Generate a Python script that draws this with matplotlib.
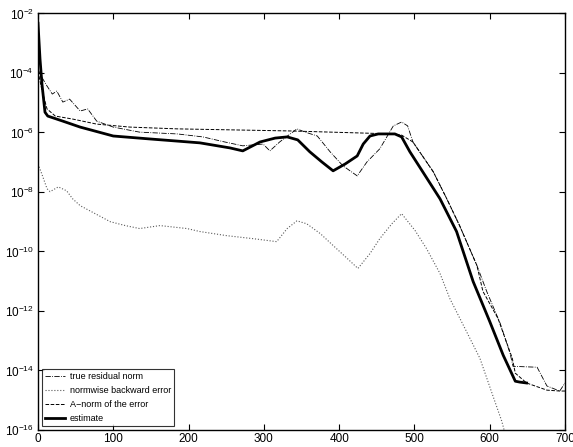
import numpy as np
import matplotlib
matplotlib.use("Agg")
import matplotlib.pyplot as plt

plt.rcParams['font.family'] = ['Liberation Sans Narrow', 'Liberation Sans', 'DejaVu Sans']
plt.rcParams['mathtext.default'] = 'regular'

# values, stored as log10 exponents
res_it = [0, 5, 12, 19, 25, 33, 42, 56, 66, 78, 100, 135, 185, 219, 248, 272, 299, 308,
          321, 344, 355, 371, 388, 405, 424, 437, 454, 472, 483, 491, 498, 525, 543, 560,
          583, 596, 614, 627, 631, 663, 676, 693, 700]
res_log = [-3.88, -4.14, -4.44, -4.71, -4.61, -4.98, -4.88, -5.28, -5.21, -5.62, -5.82,
           -5.99, -6.05, -6.15, -6.32, -6.45, -6.39, -6.62, -6.32, -5.88, -5.99, -6.12,
           -6.65, -7.12, -7.46, -6.99, -6.55, -5.78, -5.65, -5.78, -6.32, -7.32, -8.23,
           -9.13, -10.47, -11.34, -12.42, -13.42, -13.86, -13.89, -14.52, -14.69, -14.42]

bwd_it = [0, 5, 12, 16, 27, 38, 46, 56, 76, 96, 116, 135, 162, 198, 215, 251, 286, 317,
          331, 344, 357, 375, 392, 408, 425, 441, 454, 470, 483, 501, 516, 534, 547, 567,
          587, 603, 616, 622]
bwd_log = [-7.06, -7.39, -7.89, -7.99, -7.83, -7.96, -8.23, -8.46, -8.73, -9.00, -9.13,
           -9.23, -9.13, -9.23, -9.33, -9.47, -9.57, -9.67, -9.23, -8.97, -9.07, -9.40,
           -9.80, -10.17, -10.57, -10.07, -9.57, -9.07, -8.73, -9.30, -9.90, -10.74,
           -11.58, -12.58, -13.59, -14.76, -15.70, -16.27]

anorm_it = [0, 5, 12, 23, 46, 78, 122, 185, 335, 472, 483, 498, 525, 543, 560, 583, 591,
            611, 630, 634, 649, 676, 693, 700]
anorm_log = [-3.94, -4.55, -5.21, -5.45, -5.55, -5.72, -5.82, -5.88, -5.95, -6.05, -6.09,
             -6.32, -7.32, -8.23, -9.13, -10.47, -11.34, -12.25, -13.59, -14.09, -14.42,
             -14.66, -14.69, -14.69]

est_it = [0, 2.7, 5.3, 9.3, 13, 33, 56, 100, 149, 215, 255, 272, 295, 315, 331, 345, 361,
          377, 392, 408, 424, 432, 441, 452, 474, 483, 494, 511, 534, 556, 578, 600, 618,
          634, 640, 649]
est_log = [-2.33, -3.54, -4.38, -5.32, -5.45, -5.62, -5.82, -6.12, -6.22, -6.35, -6.52,
           -6.62, -6.32, -6.19, -6.15, -6.25, -6.65, -6.99, -7.29, -7.06, -6.79, -6.39,
           -6.12, -6.05, -6.05, -6.15, -6.65, -7.32, -8.23, -9.33, -11.01, -12.35, -13.49,
           -14.36, -14.39, -14.42]

xticks = [0, 100, 200, 300, 400, 500, 600, 700]
yticks = [1e-16, 1e-14, 1e-12, 1e-10, 1e-8, 1e-6, 1e-4, 1e-2]

fig = plt.figure(figsize=(5.73, 4.47), dpi=100)
ax = fig.add_axes([0.0663, 0.038, 0.9197, 0.932])

ax.semilogy(res_it, 10.0 ** np.array(res_log), 'k-.', lw=0.6, label='true residual norm')
ax.semilogy(bwd_it, 10.0 ** np.array(bwd_log), ':', color='0.35', lw=0.8,
            label='normwise backward error')
ax.semilogy(anorm_it, 10.0 ** np.array(anorm_log), 'k--', lw=0.7, label='A\u2212norm of the error')
ax.semilogy(est_it, 10.0 ** np.array(est_log), 'k-', lw=2.0, label='estimate')

ax.set_xlim(0, 700)
ax.set_ylim(1e-16, 1e-2)
ax.set_xticks(xticks)
ax.set_yticks(yticks)
ax.minorticks_off()
ax.tick_params(direction='in', top=True, right=True, labelsize=8.5, length=4, width=0.8)
ax.tick_params(axis='x', pad=2)
ax.tick_params(axis='y', pad=3)
for s in ax.spines.values():
    s.set_linewidth(1.0)

leg = ax.legend(loc='lower left', fontsize=6.5, frameon=True, fancybox=False,
                edgecolor='k', handlelength=2.2, borderaxespad=0.4, labelspacing=0.55,
                borderpad=0.35, handletextpad=0.6)
leg.get_frame().set_linewidth(0.8)

fig.savefig('out.png', dpi=100)
